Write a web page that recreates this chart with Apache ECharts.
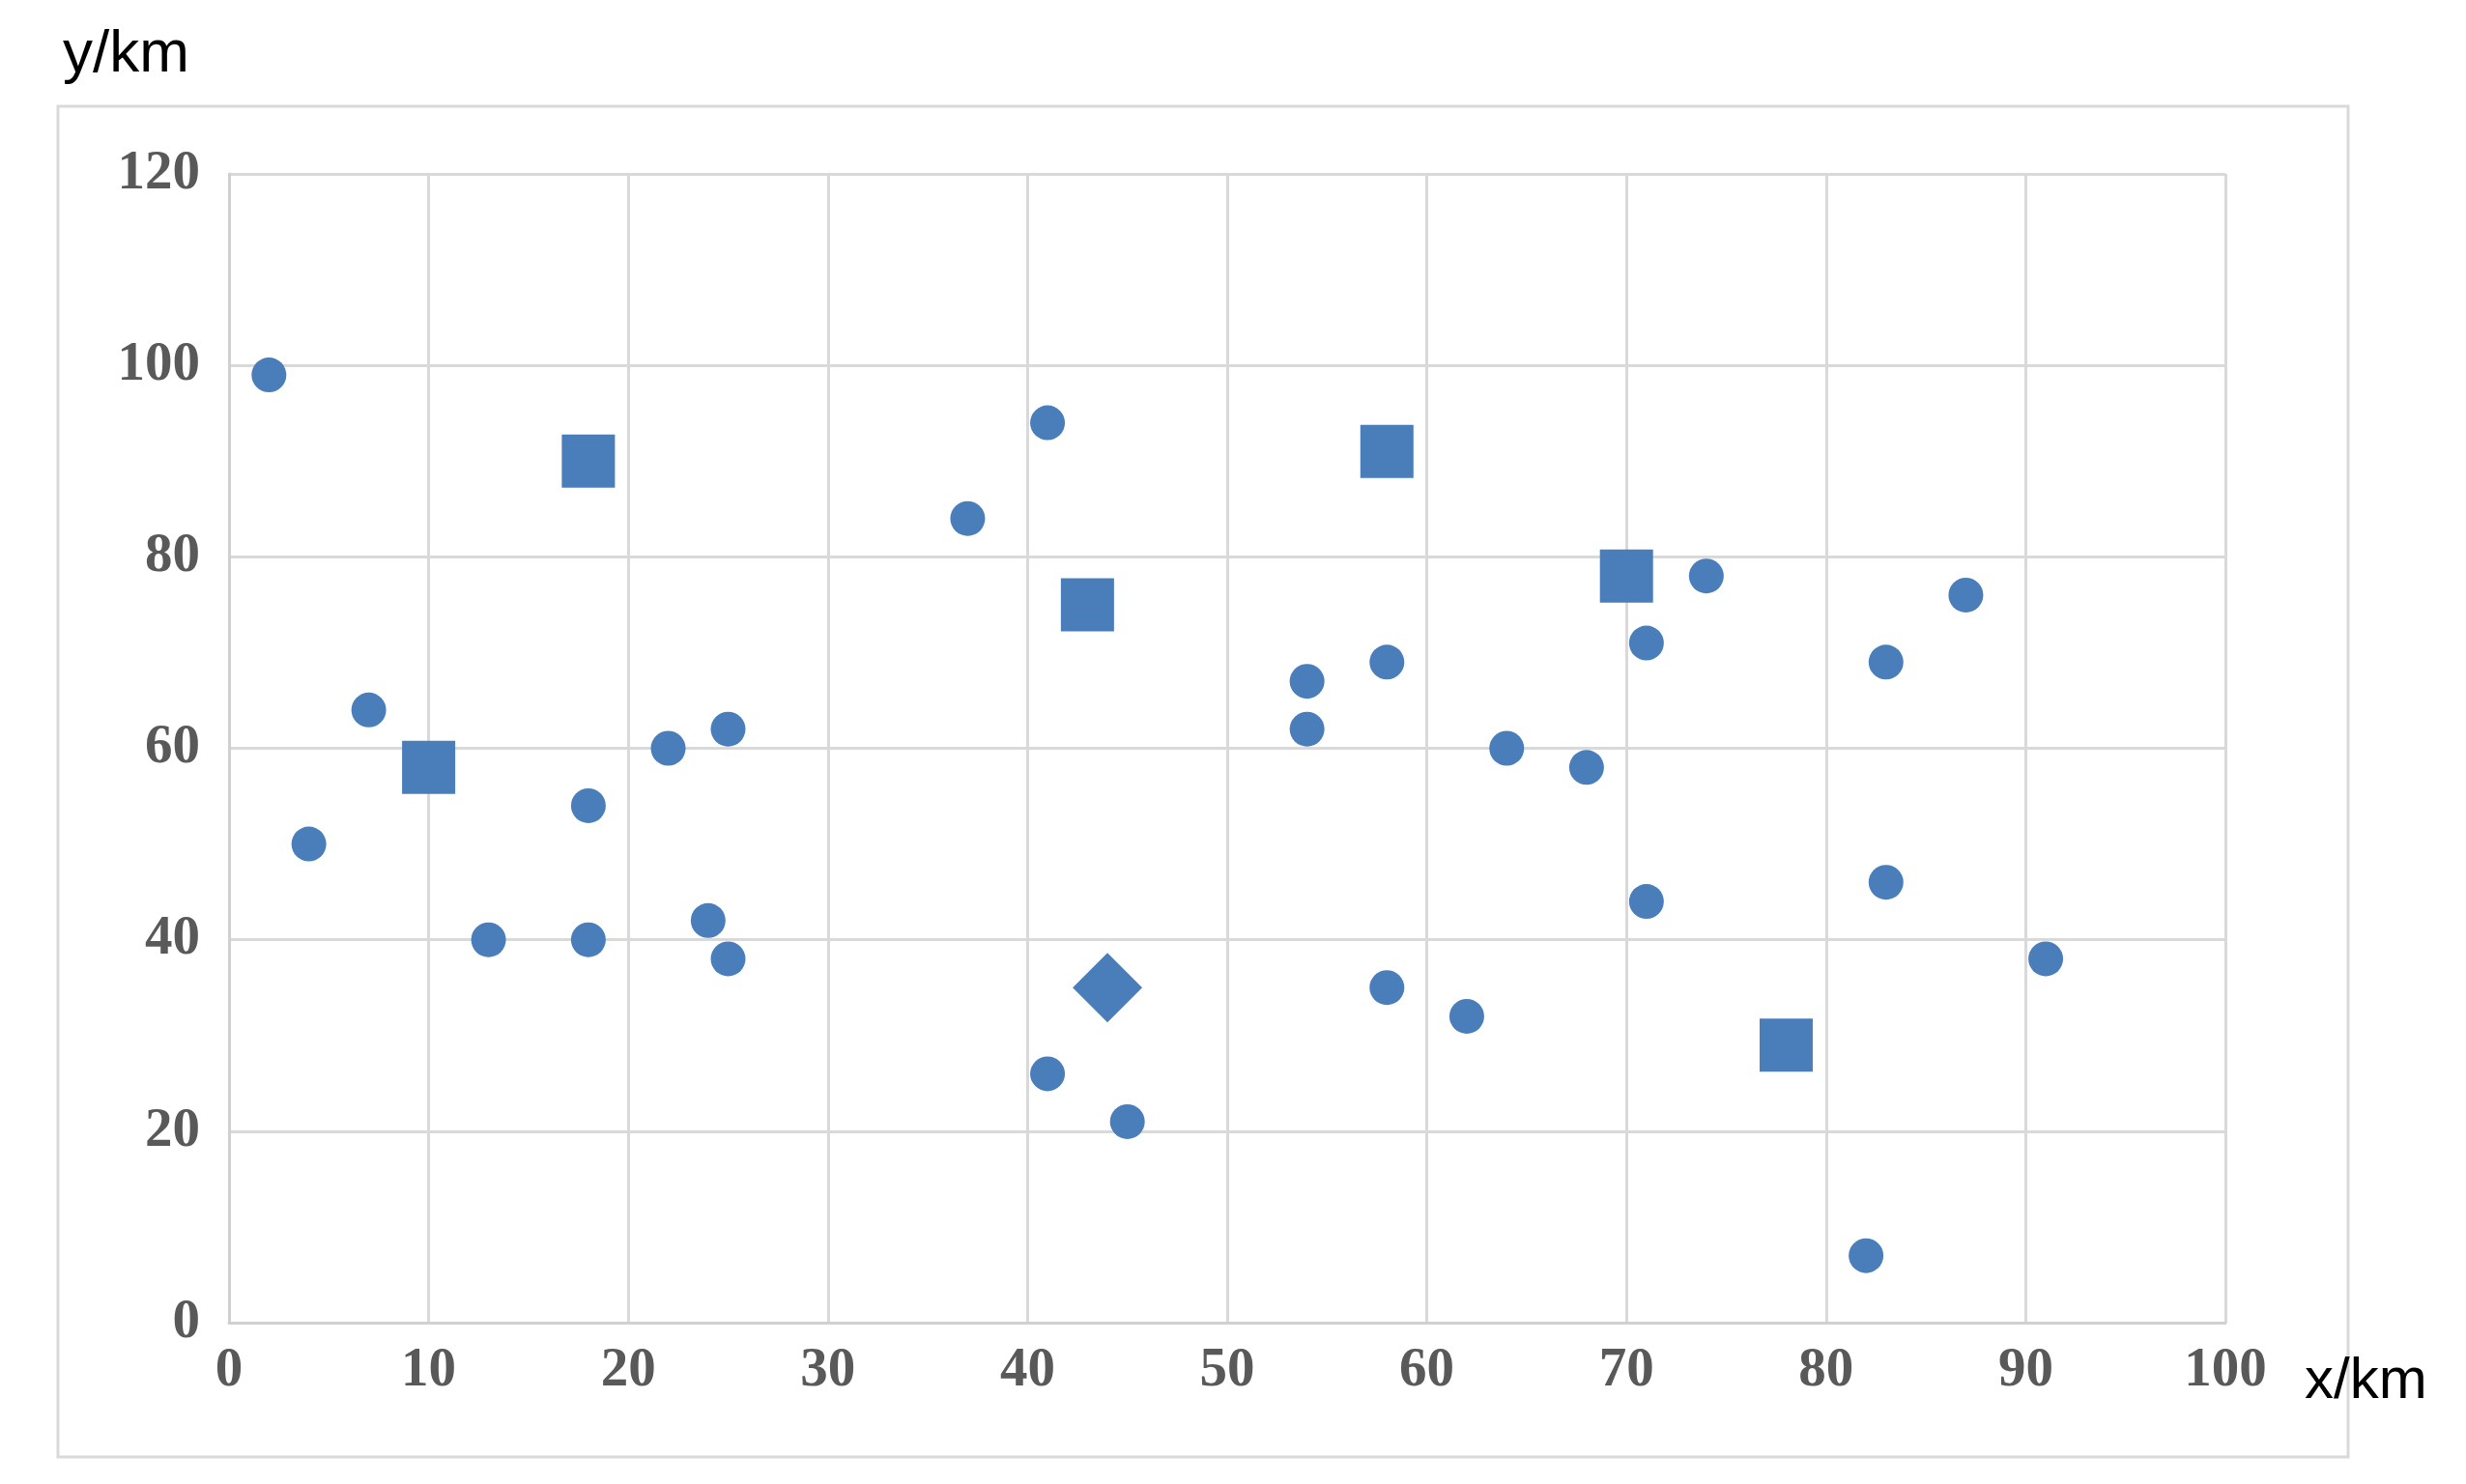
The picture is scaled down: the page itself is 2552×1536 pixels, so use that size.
<!DOCTYPE html>
<html><head><meta charset="utf-8">
<script src="https://cdn.jsdelivr.net/npm/echarts@6/dist/echarts.min.js"></script>
<style>html,body{margin:0;background:#fff}#c{width:2552px;height:1536px}</style>
</head><body><div id="c"></div>
<script>
const circles=[[2,99],[41,94],[37,84],[74,78],[87,76],[71,71],[58,69],[54,67],[83,69],[7,64],[25,62],[22,60],[54,62],[64,60],[68,58],[4,50],[18,54],[83,46],[71,44],[24,42],[13,40],[18,40],[25,38],[91,38],[58,35],[62,32],[41,26],[45,21],[82,7]];
const squares=[[18,90],[58,91],[43,75],[70,78],[10,58],[78,29]];
const diamonds=[[44,35]];
const xTicks=[0,10,20,30,40,50,60,70,80,90,100];
const yTicks=[0,20,40,60,80,100,120];
const col='#4a7ebb';
const lab={fontFamily:'Liberation Serif',fontWeight:'bold',fontSize:57,color:'#595959'};
const ch=echarts.init(document.getElementById('c'));
ch.setOption({
 animation:false,
 grid:{left:237,right:249,top:180,bottom:167},
 xAxis:{type:'value',min:xTicks[0],max:xTicks[xTicks.length-1],interval:10,
  axisLine:{show:true,lineStyle:{color:'#d0d0d0',width:3}},axisTick:{show:false},
  splitLine:{lineStyle:{color:'#d9d9d9',width:3}},axisLabel:Object.assign({margin:22},lab)},
 yAxis:{type:'value',min:yTicks[0],max:yTicks[yTicks.length-1],interval:20,
  axisLine:{show:true,lineStyle:{color:'#d0d0d0',width:3}},axisTick:{show:false},
  splitLine:{lineStyle:{color:'#d9d9d9',width:3}},axisLabel:Object.assign({margin:30},lab)},
 graphic:[
  {type:'rect',shape:{x:60,y:110,width:2370,height:1398},style:{fill:'none',stroke:'#d9d9d9',lineWidth:3}},
  {type:'text',left:65,top:26,style:{text:'y/km',font:'62px "Liberation Sans"',fill:'#000'}},
  {type:'text',left:2385,top:1400,style:{text:'x/km',font:'60px "Liberation Sans"',fill:'#000'}}
 ],
 series:[
  {type:'scatter',data:circles,symbol:'circle',symbolSize:36,itemStyle:{color:col,opacity:1}},
  {type:'scatter',data:squares,symbol:'rect',symbolSize:55,itemStyle:{color:col,opacity:1}},
  {type:'scatter',data:diamonds,symbol:'diamond',symbolSize:[72,72],itemStyle:{color:col,opacity:1}}
 ]
});
</script></body></html>
